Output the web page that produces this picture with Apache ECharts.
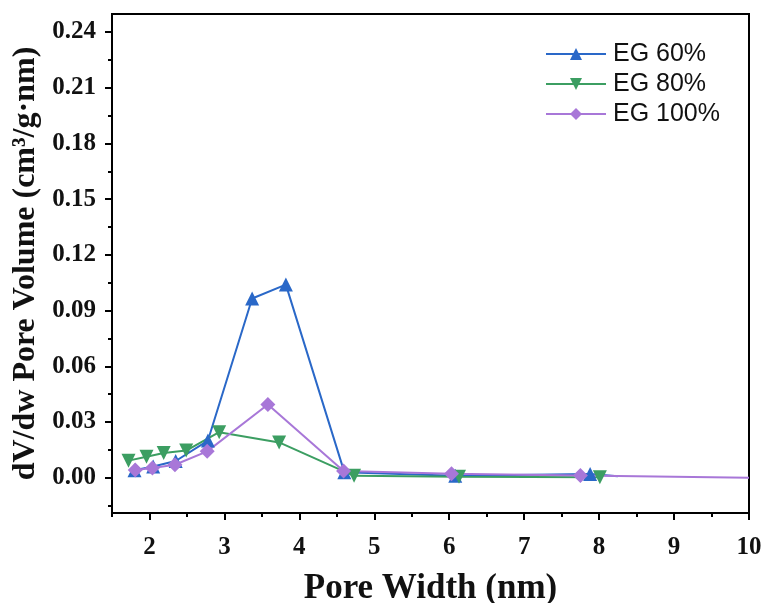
<!DOCTYPE html>
<html>
<head>
<meta charset="utf-8">
<script src="https://cdn.jsdelivr.net/npm/echarts@6/dist/echarts.min.js"></script>
<style>
  html, body { margin: 0; padding: 0; background: #fff; }
  #chart { width: 766px; height: 603px; }
</style>
</head>
<body>
<div id="chart"></div>
<script>
// pore size distribution data
var seriesNames = ['EG 60%', 'EG 80%', 'EG 100%'];

var eg60X = [1.80, 2.05, 2.35, 2.78, 3.37, 3.82, 4.60, 6.08, 7.88, 8.25];
var eg60Y = [0.004, 0.006, 0.009, 0.020, 0.0965, 0.104, 0.003, 0.001, 0.002, 0.0008];

var eg80X = [1.72, 1.96, 2.19, 2.49, 2.93, 3.73, 4.73, 6.13, 8.01];
var eg80Y = [0.0092, 0.0113, 0.0133, 0.0146, 0.0245, 0.019, 0.001, 0.0005, 0.0002];

var eg100X = [1.81, 2.04, 2.34, 2.77, 3.58, 4.59, 6.03, 7.75, 10.0];
var eg100Y = [0.0041, 0.0052, 0.007, 0.0142, 0.0394, 0.0036, 0.0022, 0.0012, 0.0];

var xTicks = [2, 3, 4, 5, 6, 7, 8, 9, 10];
var xMinorTicks = [1.5, 2.5, 3.5, 4.5, 5.5, 6.5, 7.5, 8.5, 9.5];
var yTicks = [0, 0.03, 0.06, 0.09, 0.12, 0.15, 0.18, 0.21, 0.24];
var yMinorTicks = [-0.015, 0.015, 0.045, 0.075, 0.105, 0.135, 0.165, 0.195, 0.225];

var colors = ['#2a68c8', '#3c9e62', '#a877d8'];
var markerMax = 8.1; // no markers drawn past this x

// points past markerMax keep the line but drop the marker
function pairs(xs, ys) {
    var out = [];
    for (var i = 0; i < xs.length; i++) {
        var item = { value: [xs[i], ys[i]] };
        if (xs[i] > markerMax) item.symbol = 'none';
        out.push(item);
    }
    return out;
}

var serif = '"Liberation Serif", "Times New Roman", serif';
var sans = '"Liberation Sans", Arial, sans-serif';

var xRange = { min: 1.5, max: 10 };
var yRange = { min: -0.0190, max: 0.2497 };

var option = {
    animation: false,
    backgroundColor: '#fff',
    grid: {
        left: 112, right: 17, top: 14, bottom: 90,
        outerBoundsMode: 'none',
        containLabel: false,
        show: true,
        borderColor: '#000',
        borderWidth: 2
    },
    legend: {
        orient: 'vertical',
        left: 545,
        top: 41,
        padding: 0,
        itemWidth: 60,
        itemHeight: 15,
        itemGap: 4,
        textStyle: { fontFamily: sans, fontSize: 25, lineHeight: 26, color: '#111', padding: [0, 0, 0, 2] },
        data: seriesNames
    },
    xAxis: [{
        type: 'value',
        min: xRange.min, max: xRange.max,
        name: 'Pore Width (nm)',
        nameLocation: 'middle',
        nameGap: 58,
        nameTextStyle: { fontFamily: serif, fontWeight: 'bold', fontSize: 35, color: '#111' },
        axisLine: { show: true, onZero: false, lineStyle: { color: '#000', width: 2 } },
        axisTick: { show: true, length: 7, lineStyle: { color: '#000', width: 2 }, customValues: xTicks },
        axisLabel: {
            fontFamily: serif, fontWeight: 'bold', fontSize: 25, color: '#111', margin: 22,
            customValues: xTicks
        },
        splitLine: { show: false }
    }, {
        type: 'value',
        min: xRange.min, max: xRange.max,
        position: 'bottom',
        axisLine: { show: false, onZero: false },
        axisTick: { show: true, length: 4, lineStyle: { color: '#000', width: 2 }, customValues: xMinorTicks },
        axisLabel: { show: false },
        splitLine: { show: false }
    }],
    yAxis: [{
        type: 'value',
        min: yRange.min, max: yRange.max,
        name: 'dV/dw Pore Volume (cm³/g·nm)',
        nameLocation: 'middle',
        nameGap: 63,
        nameTextStyle: { fontFamily: serif, fontWeight: 'bold', fontSize: 32, color: '#111' },
        axisLine: { show: true, onZero: false, lineStyle: { color: '#000', width: 2 } },
        axisTick: { show: true, length: 7, lineStyle: { color: '#000', width: 2 }, customValues: yTicks },
        axisLabel: {
            fontFamily: serif, fontWeight: 'bold', fontSize: 25, color: '#111', margin: 16,
            customValues: yTicks,
            formatter: function (v) { return v.toFixed(2); }
        },
        splitLine: { show: false }
    }, {
        type: 'value',
        min: yRange.min, max: yRange.max,
        position: 'left',
        axisLine: { show: false, onZero: false },
        axisTick: { show: true, length: 4, lineStyle: { color: '#000', width: 2 }, customValues: yMinorTicks },
        axisLabel: { show: false },
        splitLine: { show: false }
    }],
    series: [{
        name: seriesNames[0],
        type: 'line',
        data: pairs(eg60X, eg60Y),
        symbol: 'triangle',
        symbolSize: 14,
        color: colors[0],
        lineStyle: { width: 2, color: colors[0] },
        itemStyle: { color: colors[0] }
    }, {
        name: seriesNames[1],
        type: 'line',
        data: pairs(eg80X, eg80Y),
        symbol: 'triangle',
        symbolRotate: 180,
        symbolSize: 14,
        color: colors[1],
        lineStyle: { width: 2, color: colors[1] },
        itemStyle: { color: colors[1] }
    }, {
        name: seriesNames[2],
        type: 'line',
        data: pairs(eg100X, eg100Y),
        symbol: 'diamond',
        symbolSize: 15,
        color: colors[2],
        lineStyle: { width: 2, color: colors[2] },
        itemStyle: { color: colors[2] }
    }]
};

var myChart = echarts.init(document.getElementById('chart'));
myChart.setOption(option);
</script>
</body>
</html>
